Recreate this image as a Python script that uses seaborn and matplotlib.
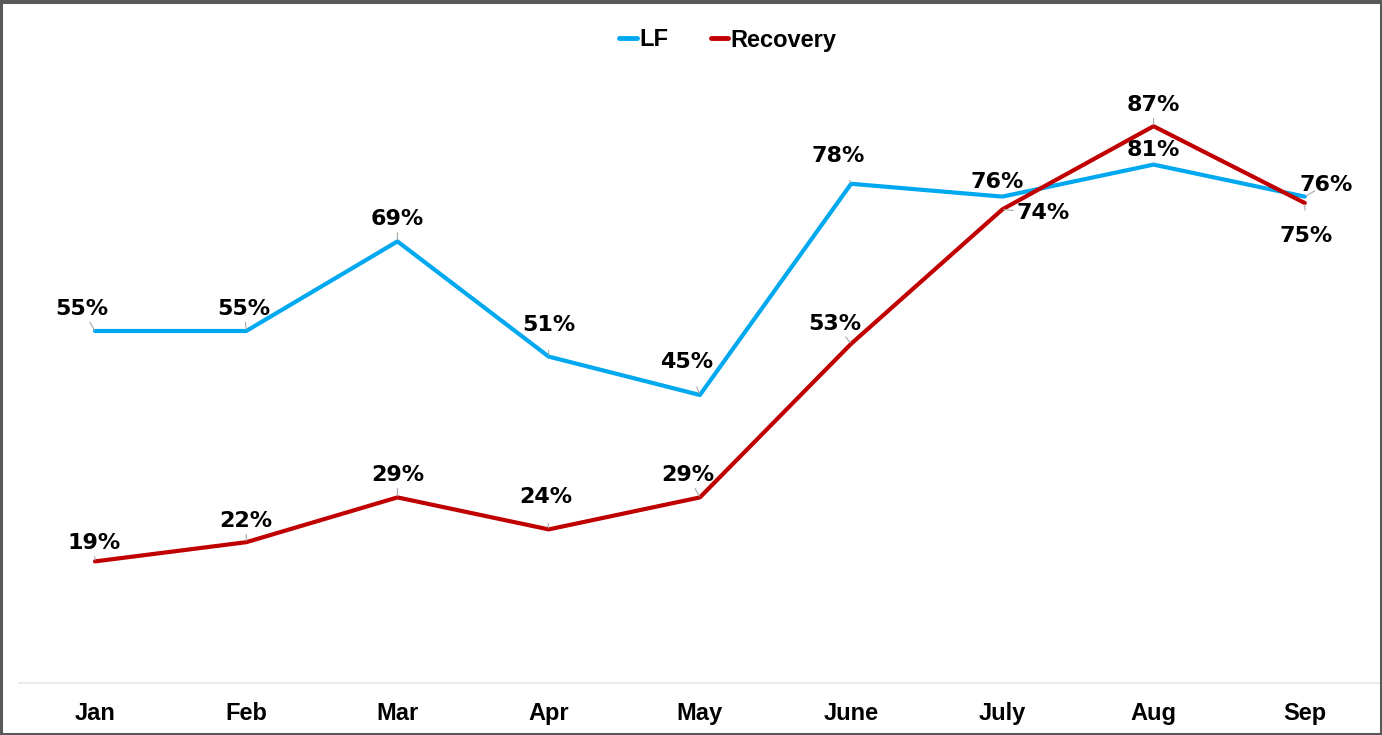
import matplotlib
matplotlib.use("Agg")
import matplotlib.pyplot as plt
import seaborn as sns
import pandas as pd
from matplotlib.lines import Line2D
from matplotlib.patches import Rectangle

months = ["Jan", "Feb", "Mar", "Apr", "May", "June", "July", "Aug", "Sep"]
lf = [55, 55, 69, 51, 45, 78, 76, 81, 76]
recovery = [19, 22, 29, 24, 29, 53, 74, 87, 75]
series_names = ["LF", "Recovery"]
colors = {"LF": "#00A8F0", "Recovery": "#C00000"}

# label offsets in pixels (dx, dy up-positive)
lf_off = [(-13, 22), (-2, 22), (0, 22), (0, 32), (-13, 33), (-13, 28), (-5, 15), (0, 15), (21, 12)]
rec_off = [(-1, 18), (0, 21), (0, 22), (-3, 32), (-12, 22), (-16, 20), (41, -4), (0, 21), (1, -33)]

sns.set_theme(style="white")
plt.rcParams["font.family"] = ["DejaVu Sans"]
plt.rcParams["text.color"] = "black"

df = pd.DataFrame({
    "x": list(range(len(months))) * 2,
    "value": lf + recovery,
    "series": ["LF"] * len(months) + ["Recovery"] * len(months),
})

W, H = 1382, 735
fig = plt.figure(figsize=(W / 100, H / 100), dpi=100)
ax = fig.add_axes([19.4 / W, 52 / H, 1361 / W, 640 / H])

sns.lineplot(data=df, x="x", y="value", hue="series", palette=colors,
             linewidth=3, ax=ax, legend=False, sort=False)

ax.set_xlim(-0.5, len(months) - 0.5)
ax.set_ylim(0, 100)
ax.set_xticks(range(len(months)))
ax.set_xticklabels(months, fontsize=17, fontweight="bold",
                   family=["Liberation Sans", "DejaVu Sans"], color="black")
ax.set_yticks([])
ax.set_xlabel("")
ax.set_ylabel("")
for s in ["top", "left", "right"]:
    ax.spines[s].set_visible(False)
ax.spines["bottom"].set_color("#E6E6E6")
ax.spines["bottom"].set_linewidth(1.2)
ax.tick_params(axis="x", length=0, pad=14, colors="black")

px = 72 / 100  # points per pixel
for vals, offs in ((lf, lf_off), (recovery, rec_off)):
    for i, (v, (dx, dy)) in enumerate(zip(vals, offs)):
        ax.annotate(f"{v}%", xy=(i, v), xytext=(dx * px, dy * px),
                    textcoords="offset points", ha="center", va="center",
                    fontsize=16, fontweight="bold", color="black",
                    arrowprops=dict(arrowstyle="-", color="#A6A6A6", lw=0.8,
                                    shrinkA=9, shrinkB=1))

handles = [Line2D([0], [0], color=colors[n], lw=3.5, solid_capstyle="round") for n in series_names]
leg = fig.legend(handles, series_names, loc="center", bbox_to_anchor=(728 / W, 1 - 40 / H),
                 ncol=2, frameon=False, handlelength=0.75, handletextpad=0.1,
                 columnspacing=1.8, prop={"family": ["Liberation Sans", "DejaVu Sans"],
                                          "weight": "bold", "size": 17})
for t in leg.get_texts():
    t.set_color("black")

fig.patches.append(Rectangle((0.001, 0.002), 0.998, 0.995, transform=fig.transFigure,
                             fill=False, edgecolor="#595959", linewidth=2.2))
fig.patches.append(Rectangle((0.0, 0.996), 1.0, 0.004, transform=fig.transFigure,
                             fill=True, facecolor="#595959", edgecolor="none"))

fig.savefig("out.png", dpi=100)
